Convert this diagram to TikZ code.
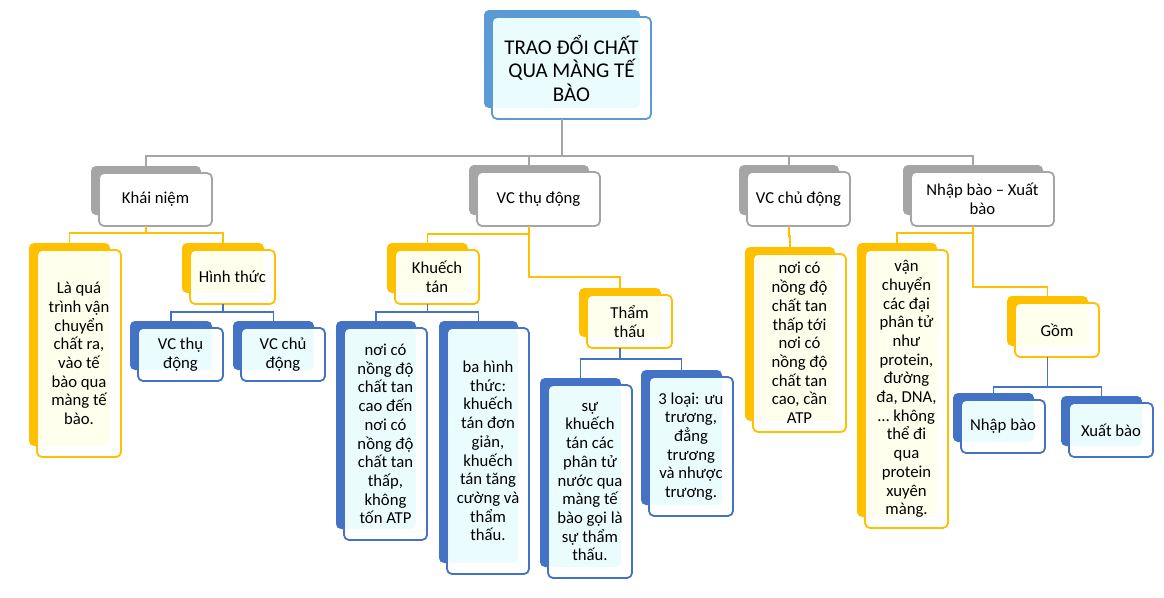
\documentclass[tikz,border=0pt]{standalone}
\usepackage{fontspec}
\setmainfont{Carlito}
\definecolor{cgray}{HTML}{A5A5A5}
\definecolor{cyel}{HTML}{FFC000}
\definecolor{cblue}{HTML}{4472C4}
\definecolor{cmain}{HTML}{5B9BD5}
\definecolor{tblue}{HTML}{EBFCFF}
\definecolor{tyel}{HTML}{FFFFEE}
\tikzset{
  bx/.style={rounded corners=5pt, inner sep=0pt, outer sep=0pt, line width=1.8pt},
  backbox/.style={bx, draw=none, fill=#1},
  frontbox/.style 2 args={bx, draw=#1, fill=white, align=center,
    font=\fontsize{16.7}{18.7}\selectfont,
    path picture={\fill[#2] (path picture bounding box.north west) rectangle ([xshift=-11pt,yshift=11pt]path picture bounding box.south east);}},
  backm/.style={backbox=cmain}, frontm/.style={frontbox={cmain}{tblue}, font=\fontsize{21}{23.5}\selectfont},
  backg/.style={backbox=cgray}, frontg/.style={frontbox={cgray}{white}},
  backy/.style={backbox=cyel},  fronty/.style={frontbox={cyel}{tyel}},
  backb/.style={backbox=cblue}, frontb/.style={frontbox={cblue}{tblue}},
  conn/.style={line width=1.8pt, line join=miter},
  gconn/.style={conn, draw=cgray},
  yconn/.style={conn, draw=cyel},
  bconn/.style={conn, draw=cblue},
}
\newcommand\smartbox[7]{%
  \node[back#2, minimum width={(#5-#3-3)*1pt}, minimum height={(#6-#4-4)*1pt}] (#1-b) at ({(#3+#5-19)/2},{(#4+#6-18)/2}) {};
  \node[front#2, minimum width={(#5-#3)*1pt}, minimum height={(#6-#4)*1pt}] (#1) at ({(#3+#5)/2},{(#4+#6)/2}) {#7};
}
\begin{document}
\begin{tikzpicture}[x=1pt,y=-1pt]
\useasboundingbox[fill=white] (0,0) rectangle (1164,597);
% boxes
\smartbox{main}{m}{492}{17}{651}{119}{TRAO ĐỔI CHẤT\\QUA MÀNG TẾ\\BÀO}
\smartbox{kn}{g}{99}{173}{212}{226}{Khái niệm}
\smartbox{vt}{g}{477}{172}{600}{226}{VC thụ động}
\smartbox{vc}{g}{747}{172}{850}{226}{VC chủ động}
\smartbox{nb}{g}{911}{172}{1054}{226}{Nhập bào – Xuất\\bào}
\smartbox{lq}{y}{37}{250}{121}{457}{Là quá\\trình vận\\chuyển\\chất ra,\\vào tế\\bào qua\\màng tế\\bào.}
\smartbox{ht}{y}{190}{250}{275}{304}{Hình thức}
\smartbox{hta}{b}{138}{328}{223}{381}{VC thụ\\động}
\smartbox{htb}{b}{241}{328}{325}{381}{VC chủ\\động}
\smartbox{kt}{y}{395}{250}{479}{304}{Khuếch\\tán}
\smartbox{kta}{b}{344}{328}{427}{540}{nơi có\\nồng độ\\chất tan\\cao đến\\nơi có\\nồng độ\\chất tan\\thấp,\\không\\tốn ATP}
\smartbox{ktb}{b}{447}{328}{529}{574}{ba hình\\thức:\\khuếch\\tán đơn\\giản,\\khuếch\\tán tăng\\cường và\\thẩm\\thấu.}
\smartbox{tt}{y}{587}{295}{672}{348}{Thẩm\\thấu}
\smartbox{tta}{b}{548}{385}{632}{578}{sự\\khuếch\\tán các\\phân tử\\nước qua\\màng tế\\bào gọi là\\sự thẩm\\thấu.}
\smartbox{ttb}{b}{649}{377}{733}{516}{3 loại: ưu\\trương,\\đẳng\\trương\\và nhược\\trương.}
\smartbox{vca}{y}{753}{254}{846}{432}{nơi có\\nồng độ\\chất tan\\thấp tới\\nơi có\\nồng độ\\chất tan\\cao, cần\\ATP}
\smartbox{nba}{y}{865}{250}{948}{528}{vận\\chuyển\\các đại\\phân tử\\như\\protein,\\đường\\đa, DNA,\\… không\\thể đi\\qua\\protein\\xuyên\\màng.}
\smartbox{gm}{y}{1015}{303}{1099}{357}{Gồm}
\smartbox{gma}{b}{961}{400}{1045}{453}{Nhập bào}
\smartbox{gmb}{b}{1069}{403}{1153}{457}{Xuất bào}
% connectors
\foreach \c in {kn,vt,vc,nb}
  \draw[gconn] (main-b.south |- main.south) -- ++(0,37) -| (\c-b.north);
\foreach \c in {lq,ht}
  \draw[yconn] (kn-b.south |- kn.south) -- ++(0,7) -| (\c-b.north);
\foreach \c in {hta,htb}
  \draw[bconn] (ht-b.south |- ht.south) -- ++(0,8) -| (\c-b.north);
\draw[yconn] (vt-b.south |- vt.south) -- ++(0,8) -| (kt-b.north);
\draw[yconn] (vt-b.south |- vt.south) -- ++(0,51) -| (tt-b.north);
\foreach \c in {kta,ktb}
  \draw[bconn] (kt-b.south |- kt.south) -- ++(0,8) -| (\c-b.north);
\foreach \c in {tta,ttb}
  \draw[bconn] (tt-b.south |- tt.south) -- ++(0,11) -| (\c-b.north);
\draw[yconn] (vc-b.south |- vc.south) -- ++(0,10) -| (vca-b.north);
\draw[yconn] (nb-b.south |- nb.south) -- ++(0,7) -| (nba-b.north);
\draw[yconn] (nb-b.south |- nb.south) -- ++(0,61) -| (gm-b.north);
\foreach \c in {gma,gmb}
  \draw[bconn] (gm-b.south |- gm.south) -- ++(0,30) -| (\c-b.north);
\end{tikzpicture}
\end{document}
